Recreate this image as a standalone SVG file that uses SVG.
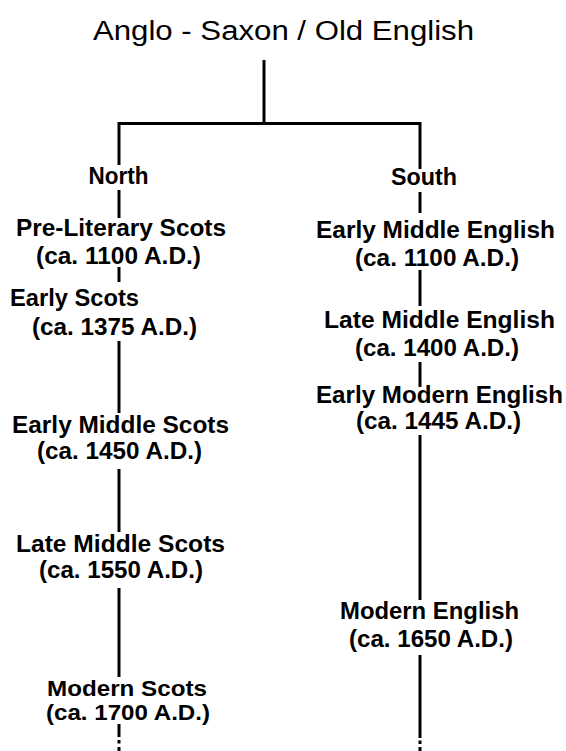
<svg xmlns="http://www.w3.org/2000/svg" width="566" height="751" viewBox="0 0 566 751">
<style>
.t{font-family:"Liberation Sans",Arial,sans-serif;font-size:27px;fill:#000}
.l{font-family:"Liberation Sans",Arial,sans-serif;font-size:23px;font-weight:bold;fill:#000}
.s{font-size:22px}
.c{stroke:#000;stroke-width:3;fill:none;stroke-linejoin:miter;stroke-linecap:butt}
</style>
<rect width="566" height="751" fill="#fff"/>
<g id="connectors" class="c">
<path d="M264 60V123.5"/>
<path d="M119 165V123.5H420V169"/>
<path d="M119 190V218"/>
<path d="M119 267V282"/>
<path d="M119 341V413"/>
<path d="M119 469V532"/>
<path d="M119 588V677"/>
<path d="M119 724V737M119 740V743.5M119 747V751"/>
<path d="M420 192V213"/>
<path d="M420 270V306"/>
<path d="M420 362V387"/>
<path d="M420 435V600"/>
<path d="M420 655V738M420 740.5V744M420 747V751"/>
</g>
<g id="root"><text class="t" x="93" y="40" textLength="381" lengthAdjust="spacingAndGlyphs">Anglo - Saxon / Old English</text></g>
<g id="north"><text class="l" x="88.5" y="183.5" textLength="60" lengthAdjust="spacingAndGlyphs">North</text></g>
<g id="south"><text class="l" x="391" y="185" textLength="66" lengthAdjust="spacingAndGlyphs">South</text></g>
<g id="pre-literary-scots">
<text class="l" x="16" y="235.5" textLength="210" lengthAdjust="spacingAndGlyphs">Pre-Literary Scots</text>
<text class="l" x="36" y="264" textLength="165" lengthAdjust="spacingAndGlyphs">(ca. 1100 A.D.)</text>
</g>
<g id="early-scots">
<text class="l" x="10" y="306" textLength="129" lengthAdjust="spacingAndGlyphs">Early Scots</text>
<text class="l" x="32" y="335" textLength="165" lengthAdjust="spacingAndGlyphs">(ca. 1375 A.D.)</text>
</g>
<g id="early-middle-scots">
<text class="l" x="12" y="433" textLength="217" lengthAdjust="spacingAndGlyphs">Early Middle Scots</text>
<text class="l" x="37" y="459" textLength="165" lengthAdjust="spacingAndGlyphs">(ca. 1450 A.D.)</text>
</g>
<g id="late-middle-scots">
<text class="l" x="16" y="551.5" textLength="209" lengthAdjust="spacingAndGlyphs">Late Middle Scots</text>
<text class="l" x="39" y="578" textLength="164" lengthAdjust="spacingAndGlyphs">(ca. 1550 A.D.)</text>
</g>
<g id="modern-scots">
<text class="l s" x="47" y="695.5" textLength="160" lengthAdjust="spacingAndGlyphs">Modern Scots</text>
<text class="l s" x="46" y="720" textLength="164" lengthAdjust="spacingAndGlyphs">(ca. 1700 A.D.)</text>
</g>
<g id="early-middle-english">
<text class="l" x="316" y="238" textLength="239" lengthAdjust="spacingAndGlyphs">Early Middle English</text>
<text class="l" x="355" y="266" textLength="164" lengthAdjust="spacingAndGlyphs">(ca. 1100 A.D.)</text>
</g>
<g id="late-middle-english">
<text class="l" x="324" y="328" textLength="231" lengthAdjust="spacingAndGlyphs">Late Middle English</text>
<text class="l" x="355" y="356" textLength="164" lengthAdjust="spacingAndGlyphs">(ca. 1400 A.D.)</text>
</g>
<g id="early-modern-english">
<text class="l" x="316" y="403" textLength="247" lengthAdjust="spacingAndGlyphs">Early Modern English</text>
<text class="l" x="356" y="429" textLength="165" lengthAdjust="spacingAndGlyphs">(ca. 1445 A.D.)</text>
</g>
<g id="modern-english">
<text class="l" x="340" y="619" textLength="179" lengthAdjust="spacingAndGlyphs">Modern English</text>
<text class="l" x="349" y="646.5" textLength="164" lengthAdjust="spacingAndGlyphs">(ca. 1650 A.D.)</text>
</g>
</svg>
